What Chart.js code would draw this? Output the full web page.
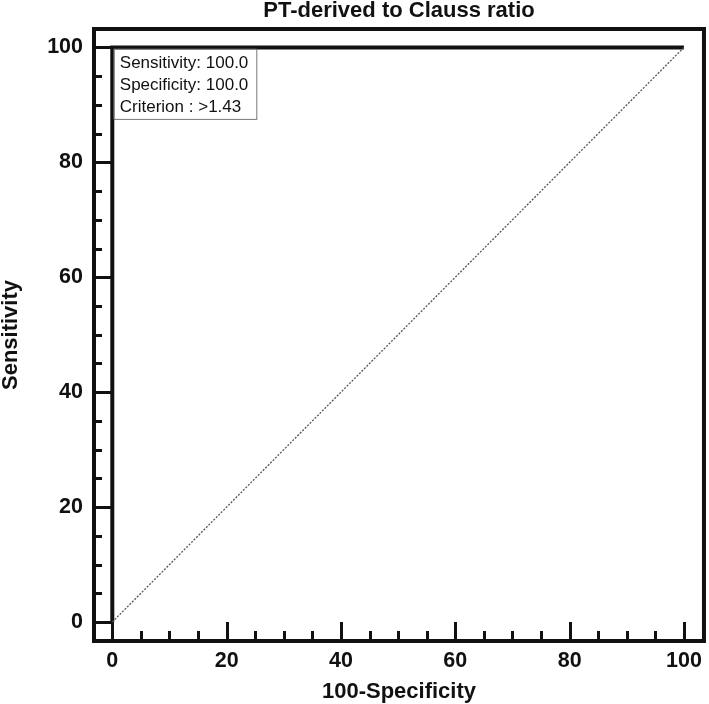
<!DOCTYPE html>
<html>
<head>
<meta charset="utf-8">
<script src="https://cdn.jsdelivr.net/npm/chart.js@4"></script>
<style>
  body { margin: 0; background: #fff; }
  canvas { display: block; }
</style>
</head>
<body>
<canvas id="roc" width="709" height="704"></canvas>
<script>
const chartTitle = 'PT-derived to Clauss ratio';
const xTitle = '100-Specificity';
const yTitle = 'Sensitivity';

// ROC curve points (100-Specificity, Sensitivity)
const rocX = [0, 0, 100];
const rocY = [0, 100, 100];

// reference diagonal
const diagX = [0, 100];
const diagY = [0, 100];

const majorTicks = [0, 20, 40, 60, 80, 100];
const minorTicks = [5, 10, 15, 25, 30, 35, 45, 50, 55, 65, 70, 75, 85, 90, 95];

const infoLines = ['Sensitivity: 100.0', 'Specificity: 100.0', 'Criterion : >1.43'];

const ink = '#111';
const boldFont = 'Liberation Sans, Arial, sans-serif';

function toPoints(xs, ys) {
    return xs.map((x, i) => ({ x: x, y: ys[i] }));
}

// title centred on the plot frame, top and right sides of the frame, inward ticks
const framePlugin = {
    id: 'frame',
    beforeDatasetsDraw(chart) {
        const { ctx, chartArea: a, scales } = chart;
        ctx.save();
        ctx.strokeStyle = ink;
        ctx.lineWidth = 4;
        ctx.beginPath();
        ctx.moveTo(a.left - 2, a.top);
        ctx.lineTo(a.right, a.top);
        ctx.lineTo(a.right, a.bottom + 2);
        ctx.stroke();

        ctx.lineWidth = 3;
        const drawX = (v, len) => {
            const px = Math.round(scales.x.getPixelForValue(v)) + 0.5;
            ctx.beginPath();
            ctx.moveTo(px, a.bottom);
            ctx.lineTo(px, a.bottom - len);
            ctx.stroke();
        };
        const drawY = (v, len) => {
            const py = Math.round(scales.y.getPixelForValue(v)) + 0.5;
            ctx.beginPath();
            ctx.moveTo(a.left, py);
            ctx.lineTo(a.left + len, py);
            ctx.stroke();
        };
        majorTicks.forEach(v => { drawX(v, 19); drawY(v, 19); });
        minorTicks.forEach(v => { drawX(v, 10); drawY(v, 8); });

        ctx.fillStyle = ink;
        ctx.font = 'bold 22px ' + boldFont;
        ctx.textAlign = 'center';
        ctx.textBaseline = 'middle';
        ctx.fillText(chartTitle, (a.left + a.right) / 2, 11);
        ctx.restore();
    },
    afterDatasetsDraw(chart) {
        const { ctx, scales } = chart;
        const left = scales.x.getPixelForValue(0) + 1.5;
        const top = scales.y.getPixelForValue(100) + 1.5;
        ctx.save();
        ctx.font = '17px Liberation Sans, Arial, sans-serif';
        const w = Math.max(...infoLines.map(t => ctx.measureText(t).width)) + 14;
        const h = 70;
        ctx.fillStyle = '#fff';
        ctx.fillRect(left, top, w, h);
        ctx.strokeStyle = '#777';
        ctx.lineWidth = 1;
        ctx.strokeRect(left + 0.5, top + 0.5, w, h);
        ctx.fillStyle = ink;
        ctx.textAlign = 'left';
        ctx.textBaseline = 'middle';
        infoLines.forEach((t, i) => {
            ctx.fillText(t, left + 6, top + 14 + i * 22);
        });
        ctx.restore();
    }
};

new Chart(document.getElementById('roc'), {
    type: 'scatter',
    data: {
        datasets: [
            {
                label: 'diagonal',
                data: toPoints(diagX, diagY),
                showLine: true,
                borderColor: '#555',
                borderWidth: 1.3,
                borderDash: [2, 1.5],
                pointRadius: 0
            },
            {
                label: 'ROC',
                data: toPoints(rocX, rocY),
                showLine: true,
                borderColor: ink,
                borderWidth: 4,
                pointRadius: 0,
                tension: 0
            }
        ]
    },
    options: {
        responsive: false,
        animation: false,
        layout: { padding: { top: 29, right: 3, bottom: 0, left: 0 } },
        plugins: {
            legend: { display: false },
            title: { display: false },
            tooltip: { enabled: false }
        },
        scales: {
            x: {
                type: 'linear',
                min: -3.2,
                max: 103.5,
                afterBuildTicks: s => { s.ticks = majorTicks.map(v => ({ value: v })); },
                afterFit: s => { s.height = 63; },
                grid: { drawOnChartArea: false, drawTicks: false },
                border: { display: true, color: ink, width: 4 },
                ticks: {
                    color: ink,
                    padding: 7,
                    maxRotation: 0,
                    font: { family: boldFont, size: 21.5, weight: 'bold' }
                },
                title: {
                    display: true,
                    text: xTitle,
                    color: ink,
                    padding: { top: 0, bottom: 1 },
                    font: { family: boldFont, size: 22, weight: 'bold', lineHeight: 1 }
                }
            },
            y: {
                type: 'linear',
                min: -3.3,
                max: 103.2,
                afterBuildTicks: s => { s.ticks = majorTicks.map(v => ({ value: v })); },
                afterFit: s => { s.width = 94; },
                grid: { drawOnChartArea: false, drawTicks: false },
                border: { display: true, color: ink, width: 4 },
                ticks: {
                    color: ink,
                    padding: 11,
                    font: { family: boldFont, size: 21.5, weight: 'bold' }
                },
                title: {
                    display: true,
                    text: yTitle,
                    color: ink,
                    padding: { top: 0, bottom: 0 },
                    font: { family: boldFont, size: 22, weight: 'bold', lineHeight: 1 }
                }
            }
        }
    },
    plugins: [framePlugin]
});
</script>
</body>
</html>
